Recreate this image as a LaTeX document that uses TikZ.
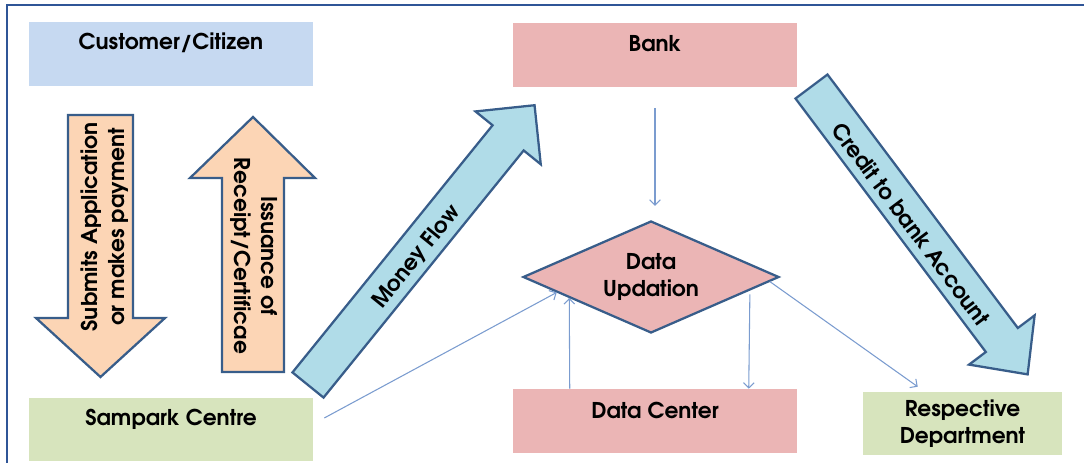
\documentclass[tikz,border=0pt]{standalone}
\usepackage{fontspec}
\setmainfont{texgyreadventor}[Extension=.otf, UprightFont=*-regular, BoldFont=*-bold, ItalicFont=*-italic, BoldItalicFont=*-bolditalic]
\usetikzlibrary{shapes.geometric,arrows.meta,calc}
\definecolor{frameblue}{HTML}{2F5597}
\definecolor{edgeblue}{HTML}{385D8A}
\definecolor{boxblue}{HTML}{C6D9F1}
\definecolor{boxpink}{HTML}{EBB5B5}
\definecolor{boxgreen}{HTML}{D7E4BD}
\definecolor{peach}{HTML}{FCD5B5}
\definecolor{aqua}{HTML}{B0DCE8}
\definecolor{connblue}{HTML}{7B9CCF}
\tikzset{
  txt/.style={font=\fontsize{16.3}{20.5}\selectfont\bfseries, text=black, align=center},
  box/.style={rectangle, inner sep=0pt, minimum width=213pt, minimum height=48pt, draw=none},
  boxlbl/.style={txt, yshift=8.25pt},
  barrow/.style={draw=edgeblue, line width=1.7pt, line join=miter},
  conn/.style={draw=connblue, line width=0.8pt, -{Straight Barb[length=4pt,width=8pt]}},
}
\begin{document}
\begin{tikzpicture}[x=0.75pt,y=-0.75pt]
\useasboundingbox (0,0) rectangle (1084,463);
% frame
\draw[frameblue, line width=1.5pt] (7,463) -- (7,5) -- (1084,5);
% boxes
\node[box, fill=boxblue, label={[boxlbl]center:Customer/Citizen}] (cust) at (171,54) {};
\node[box, fill=boxpink, label={[boxlbl]center:Bank}] (bank) at (655,55) {};
\node[box, fill=boxgreen, minimum height=47.25pt, label={[boxlbl, yshift=-0.5pt]center:Sampark Centre}] (samp) at (171,429.5) {};
\node[box, fill=boxpink, label={[boxlbl]center:Data Center}] (dc) at (655,421) {};
\node[box, fill=boxgreen, minimum width=149.25pt, minimum height=47.25pt, txt, yshift=-1.5pt] (resp) at (962.5,421.5) {Respective\\Department};
% diamond
\node[diamond, aspect=2.29, draw=edgeblue, line width=1.7pt, fill=boxpink, inner sep=0pt, minimum width=192pt, minimum height=84pt, txt] (du) at (651,277) {Data\\Updation};
% vertical block arrows
\draw[barrow, fill=peach] (68,115) -- (133,115) -- (133,318) -- (165,318) -- (100.5,377) -- (36,318) -- (68,318) -- cycle;
\node[txt, rotate=90] (sub) at (105,227) {Submits Application\\or makes payment};
\draw[barrow, fill=peach] (222,372) -- (284,372) -- (284,178) -- (315,178) -- (253,117) -- (190,178) -- (222,178) -- cycle;
\node[txt, rotate=-90] (iss) at (254,256) {Issuance of\\Receipt/Certificae};
% money flow arrow
\begin{scope}[shift={(308,385)}, rotate=51]
  \draw[barrow, fill=aqua] (0,-20) -- (318,-20) -- (318,-42) -- (360,0) -- (318,42) -- (318,20) -- (0,20) -- cycle;
\end{scope}
\node[txt, rotate=51] (mf) at (417,257) {Money Flow};
% credit arrow
\begin{scope}[shift={(811.5,86.5)}, rotate=-53.1]
  \draw[barrow, fill=aqua] (0,-20) -- (317,-20) -- (317,-41) -- (360,0) -- (317,41) -- (317,20) -- (0,20) -- cycle;
\end{scope}
\node[txt, rotate=-53.1] (cr) at (911,224) {Credit to bank Account};
% thin connectors
\draw[conn, shorten <=15.75pt, shorten >=10.5pt] (bank.south) -- (bank.south |- du.north);
\draw[conn] ($(samp.east)+(11,-11.5)$) -- ($(du.west)!0.27!(du.south)$);
\draw[conn] ($(dc.north west)+(57,0)$) -- ($(du.west)!0.367!(du.south)$);
\draw[conn, shorten <=3pt] ($(du.east)!0.234!(du.south)$) -- ($(dc.north west)+(236,0)$);
\draw[conn] ($(du.east)!0.08!(du.south)$) -- ($(resp.north west)+(55,-5)$);
\end{tikzpicture}
\end{document}
